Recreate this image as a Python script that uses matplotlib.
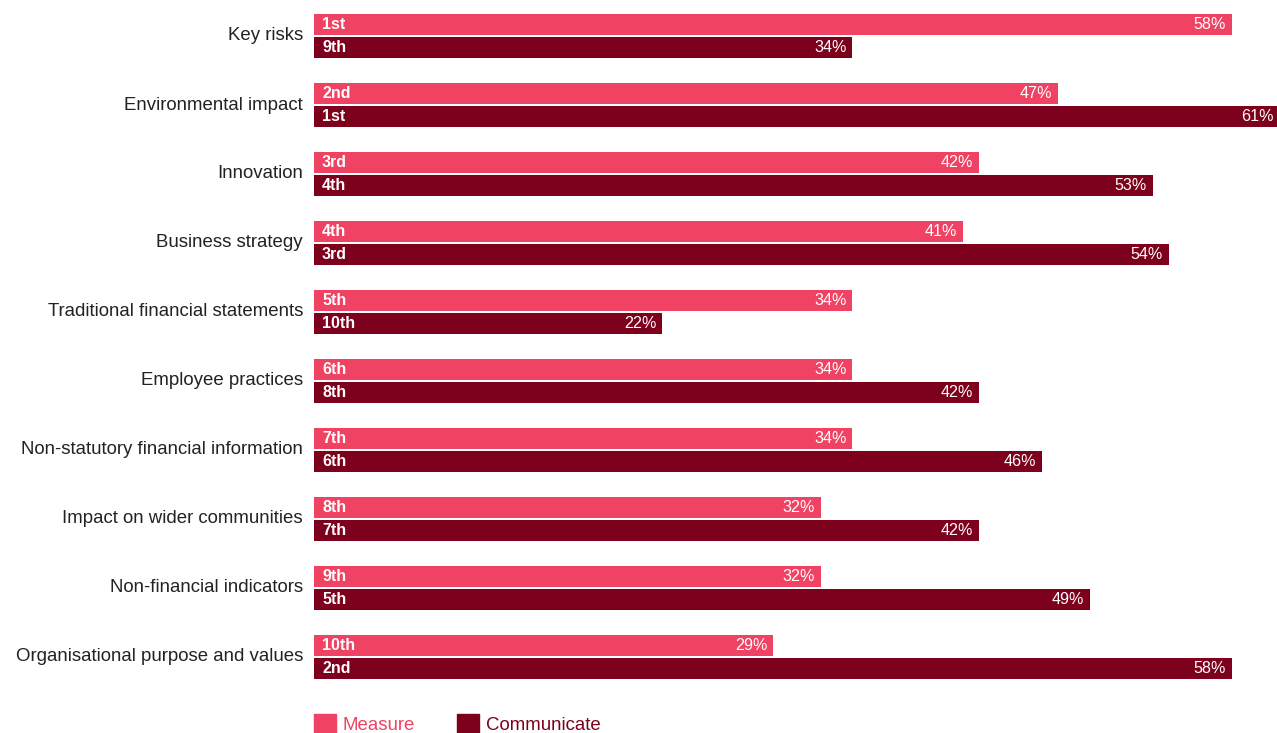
import numpy as np
import matplotlib
matplotlib.use("Agg")
import matplotlib.pyplot as plt
from matplotlib.patches import Rectangle

# dati
categories = ["Key risks", "Environmental impact", "Innovation", "Business strategy",
              "Traditional financial statements", "Employee practices",
              "Non-statutory financial information", "Impact on wider communities",
              "Non-financial indicators", "Organisational purpose and values"]
measure = [58, 47, 42, 41, 34, 34, 34, 32, 32, 29]
communicate = [34, 61, 53, 54, 22, 42, 46, 42, 49, 58]
measure_rank = ["1st", "2nd", "3rd", "4th", "5th", "6th", "7th", "8th", "9th", "10th"]
communicate_rank = ["9th", "1st", "4th", "3rd", "10th", "8th", "6th", "7th", "5th", "2nd"]

c_measure = "#F04262"
c_comm = "#7D001C"

plt.rcParams['font.family'] = ['Liberation Sans', 'DejaVu Sans']

W, H = 1277, 733
fig = plt.figure(figsize=(W / 100, H / 100), dpi=100)
ax = fig.add_axes([314 / W, (H - 700) / H, 963 / W, 700 / H])

y = np.arange(len(categories))
h = 21 / 69
off = 11.5 / 69
ax.barh(y - off, measure, height=h, color=c_measure)
ax.barh(y + off, communicate, height=h, color=c_comm)

ax.set_xlim(0, 60.83)
ax.set_ylim((700 - 36) / 69, -36 / 69)
ax.axis("off")

for i in range(len(categories)):
    ax.text(-0.7, y[i], categories[i], ha="right", va="center", fontsize=13.4, color="#222222")
    ax.annotate(measure_rank[i], (0, y[i] - off), xytext=(5.8, 0), textcoords="offset points",
                ha="left", va="center", fontsize=11.5, fontweight="bold", color="white")
    ax.annotate(communicate_rank[i], (0, y[i] + off), xytext=(5.8, 0), textcoords="offset points",
                ha="left", va="center", fontsize=11.5, fontweight="bold", color="white")
    ax.annotate(f"{measure[i]}%", (measure[i], y[i] - off), xytext=(-4.3, 0), textcoords="offset points",
                ha="right", va="center", fontsize=11.6, color="white", annotation_clip=False)
    ax.annotate(f"{communicate[i]}%", (communicate[i], y[i] + off), xytext=(-4.3, 0), textcoords="offset points",
                ha="right", va="center", fontsize=11.6, color="white", annotation_clip=False)

# legenda fatta a mano
fig.patches.append(Rectangle((314 / W, 0), 22 / W, 19 / H, transform=fig.transFigure, color=c_measure))
fig.text(342 / W, 8 / H, "Measure", color=c_measure, fontsize=13.4, va="center")
fig.patches.append(Rectangle((457 / W, 0), 22 / W, 19 / H, transform=fig.transFigure, color=c_comm))
fig.text(486 / W, 8 / H, "Communicate", color=c_comm, fontsize=13.4, va="center")

fig.savefig("out.png", dpi=100)
